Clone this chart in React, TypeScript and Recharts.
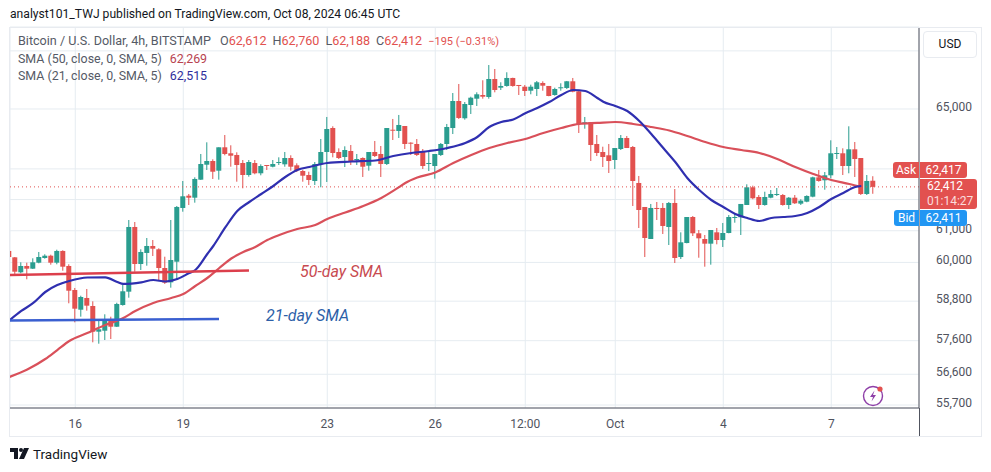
import { Bar, CartesianGrid, ComposedChart, Line, ReferenceLine, XAxis, YAxis } from 'recharts';

const FONT = 'Roboto, sans-serif';
const UP = '#2a9d8f';
const DOWN = '#e2514f';

// 4h bars, bar 0 = Sep 16 00:00
const FIRST_BAR = -11;

const opens = [
  60360, 60160, 59692, 59889, 59805, 59992, 60139, 60211, 59992, 60360,
  59889, 59144, 58539, 58898, 58652, 57871, 57901, 58225, 58022, 58683,
  59092, 61120, 59951, 60297, 60517, 60413, 59826, 59380, 60023, 61729,
  62126, 62061, 62647, 63138, 63260, 62941, 63714, 63515, 63459, 63194,
  62800, 63194, 62856, 63128, 63072, 63194, 63151, 63359, 63118, 62931,
  62800, 62604, 63161, 63558, 64358, 63558, 63392, 63591, 63293, 63359,
  63105, 63558, 63492, 63161, 64301, 64258, 64426, 63867, 63824, 63558,
  63161, 63095, 63459, 63824, 64358, 65271, 64686, 65135, 65350, 65476,
  65408, 66025, 65726, 65785, 66060, 65819, 65760, 65623, 65681, 65888,
  65785, 65476, 65716, 65716, 65946, 65602, 64494, 64551, 63824, 63558,
  63449, 63293, 63657, 64024, 63724, 62539, 61761, 60738, 61729, 61729,
  61120, 61890, 60170, 60611, 61439, 60919, 60738, 60590, 60950, 60706,
  60929, 61407, 61430, 61825, 62398, 62084, 61825, 62061, 62158, 62148,
  61825, 62061, 61868, 61932, 62094, 62724, 62627, 62790, 63502, 63515,
  63095, 63647, 63359, 62181, 62612,
];
const highs = [
  60370, 60170, 60004, 59992, 60130, 60328, 60256, 60243, 60400, 60382,
  59942, 59206, 58968, 59175, 58796, 58225, 58399, 58326, 58753, 59320,
  61343, 61279, 60413, 60770, 60706, 60445, 60180, 61343, 61793, 62604,
  62181, 62724, 63492, 63880, 63316, 63714, 64124, 63781, 63548, 63293,
  63293, 63293, 63151, 63128, 63293, 63382, 63558, 63449, 63184, 62964,
  62908, 63227, 63990, 64730, 64416, 63680, 63747, 63790, 63492, 63382,
  63558, 63924, 63757, 64358, 64663, 64798, 64426, 63880, 63990, 63657,
  63558, 63492, 63857, 64494, 65544, 65853, 65237, 65418, 65568, 65981,
  66508, 66370, 65912, 66257, 66070, 65819, 65819, 65829, 65957, 65946,
  65785, 65726, 65878, 65957, 66060, 65647, 64730, 64561, 64124, 63734,
  63824, 63690, 64124, 64091, 63757, 62768, 61761, 61858, 61922, 61890,
  61922, 62342, 60950, 61439, 61471, 61024, 60865, 61024, 61088, 61248,
  61503, 61558, 61858, 62496, 62451, 62148, 62255, 62310, 62376, 62181,
  62084, 62148, 62010, 62139, 62745, 62964, 62898, 63947, 63724, 63680,
  64416, 63890, 63359, 62800, 62760,
];
const lows = [
  60160, 59640, 59661, 59475, 59795, 59973, 60117, 59930, 59942, 59742,
  58735, 58155, 58326, 58509, 57552, 57510, 57621, 57651, 58013, 58662,
  58907, 59711, 59764, 59898, 60202, 59431, 59330, 59215, 59475, 61609,
  61825, 61900, 62637, 62964, 62670, 62647, 63449, 63072, 62581, 62366,
  62745, 62823, 62790, 62964, 63052, 63128, 63072, 62941, 62898, 62581,
  62474, 62474, 62399, 62572, 63382, 63326, 63062, 63128, 63128, 62735,
  62941, 63392, 62735, 63128, 63957, 64024, 63657, 63459, 63425, 62997,
  62931, 62679, 63425, 63624, 64157, 64663, 64639, 64831, 65101, 65350,
  65350, 65568, 65647, 65760, 65760, 65476, 65442, 65500, 65442, 65623,
  65432, 65452, 65623, 65681, 65568, 64191, 64335, 63260, 63425, 63062,
  62866, 62997, 63624, 63690, 61793, 61088, 60170, 60738, 61343, 60897,
  60548, 59983, 60107, 60601, 60833, 60148, 59867, 59930, 60570, 60486,
  60919, 61257, 60865, 61825, 62010, 61696, 61803, 62042, 62116, 61803,
  61696, 61858, 61825, 61913, 62074, 62581, 62320, 62692, 63326, 62800,
  62856, 62735, 62148, 62148, 62188,
];
const closes = [
  60170, 59711, 59889, 59805, 60004, 60170, 60211, 59992, 60360, 59867,
  59122, 58570, 58928, 58662, 57871, 57943, 58225, 58022, 58714, 59104,
  61120, 59951, 60328, 60517, 60432, 59826, 59370, 60076, 61761, 62106,
  62061, 62670, 63161, 63260, 62908, 63714, 63492, 63435, 63128, 62800,
  63227, 62856, 63095, 63105, 63161, 63227, 63359, 63072, 62954, 62777,
  62637, 63161, 63558, 64325, 63525, 63359, 63624, 63250, 63326, 63072,
  63558, 63425, 63161, 64358, 64268, 64460, 63824, 63847, 63459, 63095,
  63194, 63492, 63824, 64392, 65271, 64696, 65169, 65384, 65500, 65418,
  66025, 65647, 65785, 66060, 65785, 65795, 65613, 65760, 65912, 65795,
  65442, 65681, 65740, 65946, 65589, 64494, 64551, 63790, 63525, 63392,
  63260, 63690, 64024, 63690, 62604, 61664, 60770, 61729, 61700, 61152,
  61890, 60139, 60633, 61439, 60919, 60760, 60590, 61024, 60706, 60929,
  61439, 61439, 61858, 62398, 62042, 61825, 62084, 62181, 62181, 61825,
  62061, 61880, 61965, 62116, 62724, 62604, 62790, 63515, 63525, 63095,
  63647, 63326, 62181, 62604, 62412,
];

const sma21Bars = [
  -11, -9, -7, -5, -3, -1, 2, 5, 7, 8, 11, 13, 15, 17, 19, 20, 22, 23, 25, 27,
  29, 31, 33, 35, 37, 39, 42, 46, 50, 53, 56, 59, 62, 65, 67, 69, 71, 73, 75, 77,
  79, 81, 83, 85, 87, 88, 90, 92, 94, 96, 98, 100, 102, 104, 106, 108, 110, 112, 114, 116,
  118, 120, 122, 124, 126, 128, 130, 131,
];
const sma21Values = [
  58210, 58500, 58745, 59082, 59298, 59422, 59530, 59537, 59391, 59330, 59380, 59453, 59407, 59484, 59670, 59764, 60265, 60517, 61104, 61632,
  61922, 62181, 62441, 62735, 62964, 63062, 63194, 63243, 63276, 63425, 63525, 63591, 63690, 63857, 64057, 64392, 64561, 64646, 64855, 65034,
  65237, 65476, 65647, 65613, 65374, 65248, 65101, 64932, 64595, 64157, 63690, 63227, 62702, 62310, 61987, 61761, 61536, 61407, 61311, 61407,
  61439, 61471, 61568, 61761, 62019, 62213, 62409, 62441,
];

const sma50Bars = [
  -11, -8, -5, -3, -1, 2, 5, 8, 10, 13, 16, 18, 20, 22, 24, 26, 28, 30, 32, 34,
  37, 40, 42, 45, 48, 51, 54, 55, 57, 60, 63, 66, 69, 72, 75, 78, 81, 84, 87, 90,
  93, 96, 99, 102, 105, 108, 111, 114, 117, 120, 123, 126, 129, 131,
];
const sma50Values = [
  56519, 56741, 57053, 57321, 57591, 57831, 58073, 58286, 58500, 58745, 58898, 59021, 59268, 59515, 59826, 60123, 60328, 60486, 60706, 60865,
  61056, 61184, 61375, 61584, 61793, 62052, 62409, 62539, 62719, 62882, 63194, 63459, 63690, 63857, 63990, 64191, 64358, 64494, 64528, 64561,
  64494, 64392, 64275, 64091, 63890, 63724, 63624, 63525, 63326, 63062, 62833, 62637, 62507, 62409,
];

const timeTicks = [0, 18, 42, 60, 75, 90, 108, 126];
const timeLabels = ['16', '19', '23', '26', '12:00', 'Oct', '4', '7'];
const priceTicks = [67000, 65000, 63000, 62000, 61000, 60000, 58800, 57600, 56600, 55700];
// grid lines stay, but the USD button and the price tags sit where these labels would be
const coveredPriceLabels = [67000, 63000, 62000];

const lastPrice = 62412;
const drawn50 = [{ x: -10.88, y: 59608 }, { x: 28.95, y: 59748 }];
const drawn21 = [{ x: -10.88, y: 58210 }, { x: 23.95, y: 58255 }];

const rows = opens.map((o, i) => {
  const bar = FIRST_BAR + i;
  const a = sma50Bars.indexOf(bar);
  const b = sma21Bars.indexOf(bar);
  return {
    bar,
    o,
    h: highs[i],
    l: lows[i],
    c: closes[i],
    wick: [lows[i], highs[i]],
    body: [Math.min(o, closes[i]), Math.max(o, closes[i])],
    sma50: a >= 0 ? sma50Values[a] : null,
    sma21: b >= 0 ? sma21Values[b] : null,
  };
});

const candleShape = (minHeight: number) => (p: any) => {
  const top = Math.min(p.y, p.y + p.height);
  return (
    <rect
      x={p.x}
      y={top}
      width={p.width}
      height={Math.max(Math.abs(p.height), minHeight)}
      fill={p.payload.c >= p.payload.o ? UP : DOWN}
    />
  );
};

const PriceTick = ({ x, y, payload }: any) =>
  coveredPriceLabels.includes(payload.value) ? null : (
    <text x={x + 9} y={y + 2} fontFamily={FONT} fontSize={12} fill="#50535e">
      {payload.value.toLocaleString('en-US')}
    </text>
  );

const TimeTick = ({ x, y, payload }: any) => (
  <text x={x} y={y + 12} textAnchor="middle" fontFamily={FONT} fontSize={12} fill="#50535e">
    {timeLabels[timeTicks.indexOf(payload.value)]}
  </text>
);

const abs = (left: number, top: number, extra: any = {}) => ({
  position: 'absolute' as const,
  left,
  top,
  whiteSpace: 'nowrap' as const,
  ...extra,
});

const Tag = ({ left, top, width, height, bg, children, extra }: any) => (
  <div
    style={abs(left, top, {
      width,
      height,
      background: bg,
      color: '#fff',
      fontSize: 12,
      lineHeight: `${height}px`,
      textAlign: 'center',
      ...extra,
    })}
  >
    {children}
  </div>
);

export default function App() {
  const grey = '#555a66';
  return (
    <div style={{ position: 'absolute', left: 0, top: 0, width: 991, height: 472, background: '#fff', overflow: 'hidden', fontFamily: FONT }}>
      <div style={abs(10, 7, { fontSize: 12.15, color: '#131722' })}>
        analyst101_TWJ published on TradingView.com, Oct 08, 2024 06:45 UTC
      </div>

      <ComposedChart width={991} height={472} data={rows} margin={{ top: 27, right: 10, bottom: 36, left: 10 }}>
        <CartesianGrid stroke="#e6ecf1" />
        <XAxis
          dataKey="bar"
          type="number"
          domain={[-10.88, 140.62]}
          allowDataOverflow
          ticks={timeTicks}
          interval={0}
          height={28}
          tick={<TimeTick />}
          tickLine={false}
          axisLine={{ stroke: '#50535e' }}
        />
        <XAxis xAxisId="wicks" dataKey="bar" type="number" domain={[-10.88, 140.62]} allowDataOverflow hide />
        <YAxis
          orientation="right"
          scale="log"
          domain={[55613, 67840]}
          allowDataOverflow
          ticks={priceTicks}
          interval={0}
          width={62}
          tick={<PriceTick />}
          tickLine={false}
          axisLine={{ stroke: '#50535e' }}
        />
        <ReferenceLine y={lastPrice} stroke={DOWN} strokeDasharray="1 3" />
        <Bar xAxisId="wicks" dataKey="wick" barSize={1} shape={candleShape(1)} isAnimationActive={false} />
        <Bar dataKey="body" barSize={5} shape={candleShape(1)} isAnimationActive={false} />
        <Line dataKey="sma50" type="monotone" connectNulls dot={false} stroke="#d9505a" strokeWidth={2.2} isAnimationActive={false} />
        <Line dataKey="sma21" type="monotone" connectNulls dot={false} stroke="#2f2fb0" strokeWidth={2.2} isAnimationActive={false} />
        <ReferenceLine segment={drawn50} stroke="#dc3f4c" strokeWidth={2.4} ifOverflow="visible" />
        <ReferenceLine segment={drawn21} stroke="#3a5fd0" strokeWidth={2.4} ifOverflow="visible" />
      </ComposedChart>

      {/* frame around the chart */}
      <div style={abs(9, 27, { width: 971, height: 408, border: '1px solid #e8ebf0', pointerEvents: 'none' })} />
      <div style={abs(919, 408, { width: 1, height: 28, background: '#50535e' })} />

      <div style={abs(18, 33, { fontSize: 12.6, color: grey })}>
        Bitcoin / U.S. Dollar, 4h, BITSTAMP
        <span style={{ marginLeft: 9 }}>O</span><span style={{ color: DOWN }}>62,612</span>
        <span style={{ marginLeft: 6 }}>H</span><span style={{ color: DOWN }}>62,760</span>
        <span style={{ marginLeft: 6 }}>L</span><span style={{ color: DOWN }}>62,188</span>
        <span style={{ marginLeft: 6 }}>C</span><span style={{ color: DOWN }}>62,412</span>
        <span style={{ marginLeft: 6, fontSize: 11, color: DOWN }}>−195 (−0.31%)</span>
      </div>
      <div style={abs(18, 51, { fontSize: 12.4, color: grey })}>
        SMA (50, close, 0, SMA, 5)<span style={{ marginLeft: 8, color: '#b8434f' }}>62,269</span>
      </div>
      <div style={abs(18, 68, { fontSize: 12.4, color: grey })}>
        SMA (21, close, 0, SMA, 5)<span style={{ marginLeft: 8, color: '#2e2e9c' }}>62,515</span>
      </div>

      <div style={abs(300, 262, { fontSize: 16, fontStyle: 'italic', color: '#c84a50' })}>50-day SMA</div>
      <div style={abs(266, 306, { fontSize: 16, fontStyle: 'italic', color: '#2d5fa8' })}>21-day SMA</div>

      <div style={abs(923, 31, { width: 52, height: 25, border: '1px solid #e8ebf0', borderRadius: 4, background: '#fff', fontSize: 12, color: '#131722', lineHeight: '25px', textAlign: 'center' })}>
        USD
      </div>

      <Tag left={893} top={162} width={26} height={16} bg={DOWN} extra={{ borderRadius: '3px 0 0 3px' }}>Ask</Tag>
      <Tag left={920} top={162} width={47} height={16} bg={DOWN} extra={{ borderRadius: '0 3px 3px 0' }}>62,417</Tag>
      <div style={abs(920, 179, { width: 57, height: 30, background: DOWN, color: '#fff', fontSize: 12, lineHeight: '15px', textAlign: 'left', borderRadius: '0 3px 3px 0' })}>
        <div style={{ marginLeft: 7 }}>62,412</div>
        <div style={{ marginLeft: 7, color: '#fbdcdc' }}>01:14:27</div>
      </div>
      <Tag left={894} top={210} width={25} height={16} bg="#2196f3" extra={{ borderRadius: '3px 0 0 3px' }}>Bid</Tag>
      <Tag left={920} top={210} width={47} height={16} bg="#2196f3" extra={{ borderRadius: '0 3px 3px 0' }}>62,411</Tag>

      <svg style={abs(862, 384)} width={24} height={24}>
        <circle cx={11} cy={12} r={9.5} fill="none" stroke="#8e3fa8" strokeWidth={1.4} />
        <path d="M12.5 6.5 L8 13 L11 13 L9.5 17.5 L14 11 L11 11 Z" fill="#8e3fa8" />
        <circle cx={18} cy={5} r={2.6} fill="#e2514f" />
      </svg>

      <svg style={abs(10, 447)} width={20} height={13}>
        <path d="M0 1 H8 V12 H4 V5 H0 Z" fill="#131722" />
        <circle cx={11} cy={3} r={2} fill="#131722" />
        <path d="M14 1 H19 L14 12 H9 Z" fill="#131722" />
      </svg>
      <div style={abs(33, 446, { fontSize: 13.5, color: '#131722' })}>TradingView</div>
    </div>
  );
}
